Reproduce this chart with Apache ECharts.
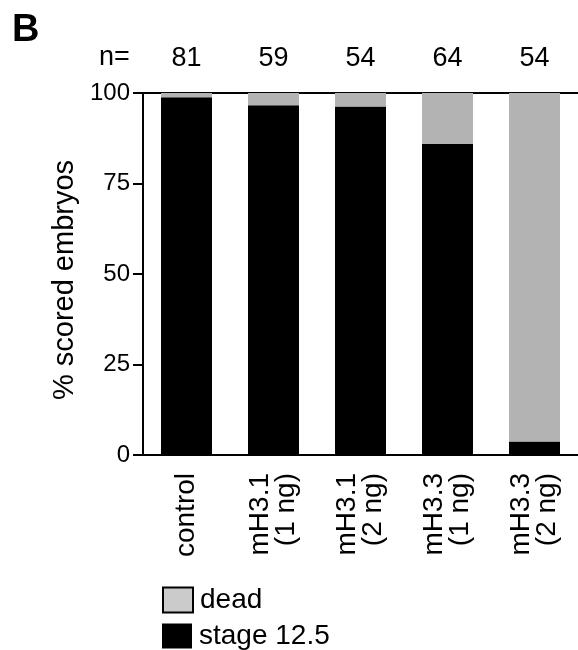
<!DOCTYPE html>
<html>
<head>
<meta charset="utf-8">
<script src="https://cdn.jsdelivr.net/npm/echarts@6/dist/echarts.min.js"></script>
<style>
  html, body { margin: 0; padding: 0; background: #fff; }
  #chart { width: 578px; height: 650px; }
</style>
</head>
<body>
<div id="chart"></div>
<script>
// groups on the x axis
const categories = ['control', 'mH3.1\n(1 ng)', 'mH3.1\n(2 ng)', 'mH3.3\n(1 ng)', 'mH3.3\n(2 ng)']
// embryos scored per group (n=)
const nCounts = [81, 59, 54, 64, 54]
// % of embryos per outcome
const stageValues = [98.8, 96.6, 96.3, 85.9, 3.7]
const deadValues = [1.2, 3.4, 3.7, 14.1, 96.3]
const yTicks = [0, 25, 50, 75, 100]

const font = "'Liberation Sans', Arial, sans-serif"
const chart = echarts.init(document.getElementById('chart'))

// one legend per row, stacked by hand
const legendBase = {
  orient: 'vertical',
  left: 162,
  padding: 0,
  itemWidth: 30,
  itemHeight: 25,
  icon: 'rect',
  textStyle: { fontSize: 28, color: '#000', fontFamily: font, padding: [0, 0, 0, 2] }
}

const option = {
  animation: false,
  textStyle: { fontFamily: font, color: '#000' },
  grid: { left: 143, right: -3, top: 93, bottom: 195 },
  graphic: [
    {
      type: 'text', left: 12, top: 12,
      style: { text: 'B', font: 'bold 38px ' + font, fill: '#000' }
    },
    {
      type: 'text', left: 99, top: 44,
      style: { text: 'n=', font: '27px ' + font, fill: '#000' }
    }
  ],
  legend: [
    Object.assign({}, legendBase, {
      top: 586,
      data: [{ name: 'dead', itemStyle: { color: '#cbcbcb', borderColor: '#000', borderWidth: 2 } }]
    }),
    Object.assign({}, legendBase, {
      top: 622,
      data: [{ name: 'stage 12.5', itemStyle: { color: '#000' } }]
    })
  ],
  xAxis: [
    {
      type: 'category',
      data: categories,
      axisLine: { lineStyle: { color: '#000', width: 2 } },
      axisTick: { length: 8, lineStyle: { color: '#000', width: 2 } },
      axisLabel: {
        rotate: 90,
        margin: 18,
        fontSize: 28,
        lineHeight: 26,
        color: '#000',
        fontFamily: font
      }
    },
    {
      type: 'category',
      position: 'top',
      data: nCounts.map(String),
      axisLine: { lineStyle: { color: '#000', width: 2 } },
      axisTick: { show: false },
      axisLabel: { margin: 21, fontSize: 27, color: '#000', fontFamily: font }
    }
  ],
  yAxis: {
    type: 'value',
    min: 0,
    max: 100,
    interval: 25,
    name: '% scored embryos',
    nameLocation: 'middle',
    nameGap: 63,
    nameTextStyle: { fontSize: 29, color: '#000', fontFamily: font, padding: [0, 12, 0, 0] },
    splitLine: { show: false },
    axisLine: { show: true, lineStyle: { color: '#000', width: 2 } },
    axisTick: { show: true, length: 10, lineStyle: { color: '#000', width: 2 } },
    axisLabel: {
      margin: 13,
      fontSize: 24,
      color: '#000',
      fontFamily: font,
      formatter: v => (yTicks.includes(v) ? String(v) : '')
    }
  },
  series: [
    {
      name: 'stage 12.5',
      type: 'bar',
      stack: 'all',
      barWidth: 51,
      itemStyle: { color: '#000' },
      data: stageValues
    },
    {
      name: 'dead',
      type: 'bar',
      stack: 'all',
      barWidth: 51,
      itemStyle: { color: '#b3b3b3' },
      data: deadValues
    }
  ]
}

chart.setOption(option)
</script>
</body>
</html>
